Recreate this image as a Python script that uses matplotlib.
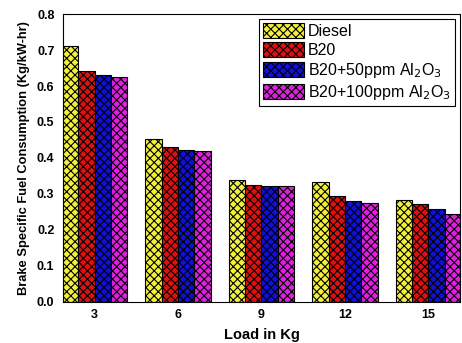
import matplotlib
matplotlib.use("Agg")
import matplotlib.pyplot as plt
import numpy as np

loads = ["3", "6", "9", "12", "15"]
series_names = ["Diesel", "B20", r"B20+50ppm Al$_2$O$_3$", r"B20+100ppm Al$_2$O$_3$"]
diesel = [0.711, 0.452, 0.340, 0.332, 0.282]
b20 = [0.642, 0.430, 0.324, 0.294, 0.272]
b20_50 = [0.631, 0.421, 0.321, 0.280, 0.257]
b20_100 = [0.626, 0.419, 0.321, 0.276, 0.244]
colors = ["#F2F03A", "#E01010", "#1010D8", "#E020E0"]

plt.rcParams['font.family'] = ['Liberation Sans', 'DejaVu Sans']
plt.rcParams['hatch.linewidth'] = 0.8

fig = plt.figure(figsize=(4.62, 3.43), dpi=100)
ax = fig.add_axes([0.136, 0.120, 0.860, 0.839])

x = np.arange(len(loads))
w = 0.195
data = [diesel, b20, b20_50, b20_100]
for i, (vals, c, name) in enumerate(zip(data, colors, series_names)):
    ax.bar(x + (i - 1.5) * w, vals, width=w, color=c, edgecolor="black",
           linewidth=0.8, hatch="xxxx", label=name)

ax.set_xlim(-0.38, 4.38)
ax.set_ylim(0, 0.8)
ax.set_xticks(x)
ax.set_xticklabels(loads, fontsize=9, fontweight="bold")
ax.set_yticks(np.arange(0, 0.81, 0.1))
ax.set_yticklabels([f"{v:.1f}" for v in np.arange(0, 0.81, 0.1)], fontsize=9, fontweight="bold")
ax.tick_params(axis='y', length=0, pad=6)
ax.tick_params(axis='x', length=0, pad=5)
ax.set_xlabel("Load in Kg", fontsize=10.5, fontweight="bold", labelpad=5)
ax.set_ylabel("Brake Specific Fuel Consumption (Kg/kW-hr)", fontsize=9.3,
              fontweight="bold", labelpad=5)

leg = ax.legend(loc="upper right", bbox_to_anchor=(0.995, 0.995), fontsize=11.5,
                frameon=True, fancybox=False, edgecolor="black", framealpha=1,
                handlelength=2.6, handleheight=1.05, handletextpad=0.25,
                labelspacing=0.2, borderpad=0.25, borderaxespad=0.2)
leg.get_frame().set_linewidth(0.8)

fig.savefig("out.png", dpi=100)
